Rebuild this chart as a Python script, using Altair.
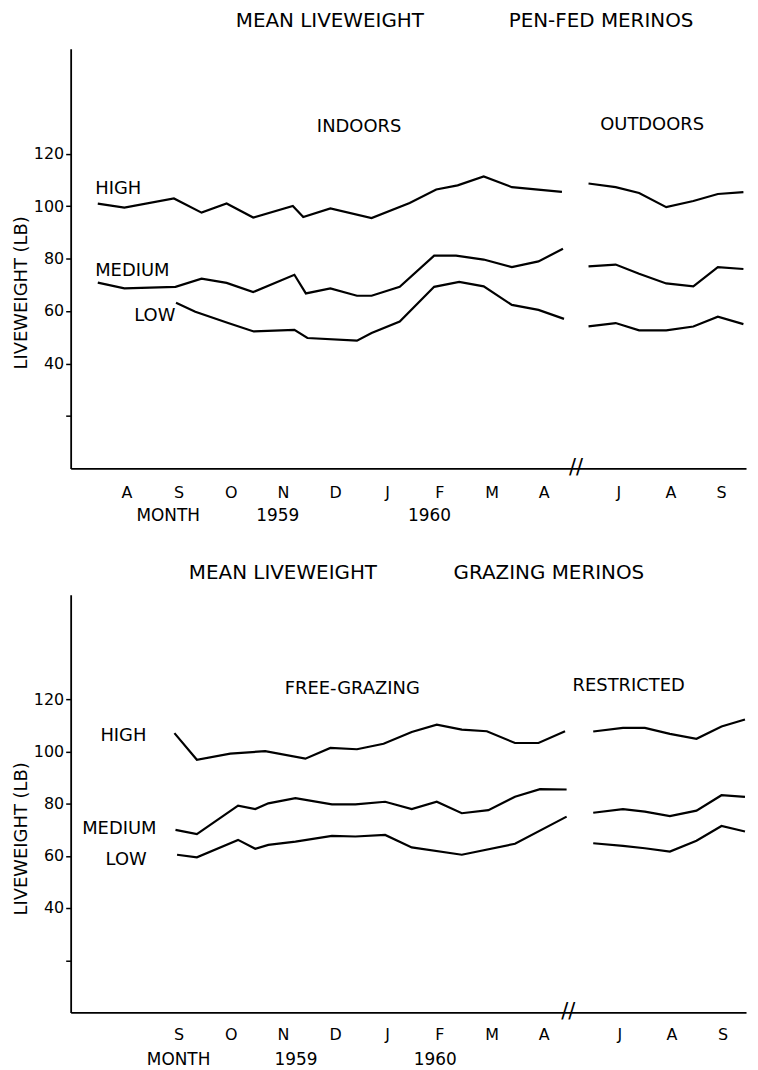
import altair as alt
import pandas as pd

FONT = "DejaVu Sans"

# ---------------- time axis (0 = start of Aug 1959, 1 unit = 1 month, break after April) ----
X_DOMAIN = [-0.57, 12.38]
TOP_MONTHS = ["A", "S", "O", "N", "D", "J", "F", "M", "A", "J", "A", "S"]
TOP_MONTH_POS = [0.5, 1.5, 2.5, 3.5, 4.5, 5.5, 6.5, 7.5, 8.5, 9.93, 10.93, 11.9]
BOT_MONTHS = ["S", "O", "N", "D", "J", "F", "M", "A", "J", "A", "S"]
BOT_MONTH_POS = [1.5, 2.5, 3.5, 4.5, 5.5, 6.5, 7.5, 8.5, 9.95, 10.95, 11.93]

# ---------------- PEN-FED MERINOS (top) ----------------
PEN_IN_HIGH_X = [-0.05, 0.46, 1.41, 1.94, 2.42, 2.93, 3.69, 3.89, 4.41, 5.20, 5.93, 6.44, 6.85, 7.35, 7.89, 8.85]
PEN_IN_HIGH_Y = [100.9, 99.4, 102.9, 97.5, 101.0, 95.6, 100.0, 95.8, 99.1, 95.4, 101.2, 106.3, 107.9, 111.3, 107.2, 105.4]
PEN_IN_MED_X = [-0.05, 0.46, 1.44, 1.94, 2.42, 2.93, 3.72, 3.94, 4.41, 4.92, 5.20, 5.74, 6.40, 6.82, 7.35, 7.89, 8.40, 8.87]
PEN_IN_MED_Y = [70.8, 68.6, 69.2, 72.3, 70.7, 67.2, 73.8, 66.7, 68.6, 65.8, 65.8, 69.2, 81.1, 81.1, 79.6, 76.7, 78.9, 83.7]
PEN_IN_LOW_X = [1.45, 1.82, 2.45, 2.94, 3.72, 3.97, 4.92, 5.20, 5.74, 6.40, 6.88, 7.35, 7.89, 8.40, 8.89]
PEN_IN_LOW_Y = [63.1, 59.7, 55.4, 52.2, 52.8, 49.7, 48.7, 51.6, 56.0, 69.2, 71.1, 69.4, 62.3, 60.4, 57.0]
PEN_OUT_X = [9.36, 9.88, 10.33, 10.85, 11.37, 11.84, 12.33]
PEN_OUT_HIGH_Y = [108.6, 107.2, 105.0, 99.6, 101.9, 104.6, 105.3]
PEN_OUT_MED_Y = [77.0, 77.7, 74.2, 70.5, 69.4, 76.7, 76.0]
PEN_OUT_LOW_Y = [54.1, 55.4, 52.6, 52.6, 54.1, 57.8, 55.0]

PEN_SERIES_LABELS = ["HIGH", "MEDIUM", "LOW"]
PEN_SERIES_LABEL_X = [-0.1, -0.1, 0.65]
PEN_SERIES_LABEL_Y = [106.6, 75.1, 57.9]
PEN_GROUP_LABELS = ["INDOORS", "OUTDOORS"]
PEN_GROUP_LABEL_X = [4.96, 10.58]
PEN_GROUP_LABEL_Y = [130.2, 130.9]
PEN_TITLE = ["MEAN LIVEWEIGHT", "PEN-FED MERINOS"]
PEN_TITLE_X = [4.4, 9.6]
PEN_TITLE_Y = [170.5, 170.5]
PEN_FOOT = ["MONTH", "1959", "1960"]
PEN_FOOT_X = [1.30, 3.40, 6.31]

# ---------------- GRAZING MERINOS (bottom) ----------------
GRZ_FREE_HIGH_X = [1.42, 1.85, 2.49, 3.16, 3.93, 4.41, 4.92, 5.43, 5.97, 6.45, 6.93, 7.41, 7.95, 8.40, 8.91]
GRZ_FREE_HIGH_Y = [107.0, 96.8, 99.1, 100.1, 97.2, 101.3, 100.8, 102.9, 107.4, 110.2, 108.3, 107.7, 103.2, 103.2, 107.7]
GRZ_FREE_MED_X = [1.44, 1.85, 2.64, 2.97, 3.22, 3.74, 4.44, 4.89, 5.46, 5.97, 6.45, 6.93, 7.44, 7.95, 8.43, 8.94]
GRZ_FREE_MED_Y = [69.9, 68.3, 79.2, 77.9, 80.1, 82.1, 79.7, 79.7, 80.7, 77.9, 80.7, 76.3, 77.5, 82.6, 85.5, 85.4]
GRZ_FREE_LOW_X = [1.47, 1.85, 2.64, 2.97, 3.22, 3.74, 4.44, 4.89, 5.46, 5.97, 6.93, 7.95, 8.94]
GRZ_FREE_LOW_Y = [60.4, 59.4, 66.1, 62.7, 64.2, 65.4, 67.6, 67.4, 68.0, 63.2, 60.4, 64.6, 75.0]
GRZ_REST_X = [9.45, 10.02, 10.44, 10.92, 11.43, 11.91, 12.36]
GRZ_REST_HIGH_Y = [107.6, 109.0, 109.0, 106.7, 104.8, 109.5, 112.2]
GRZ_REST_MED_Y = [76.5, 77.9, 76.9, 75.2, 77.3, 83.2, 82.6]
GRZ_REST_LOW_Y = [64.8, 63.8, 62.9, 61.6, 65.8, 71.4, 69.3]

GRZ_SERIES_LABELS = ["HIGH", "MEDIUM", "LOW"]
GRZ_SERIES_LABEL_X = [0.0, -0.35, 0.1]
GRZ_SERIES_LABEL_Y = [105.9, 70.3, 58.3]
GRZ_GROUP_LABELS = ["FREE-GRAZING", "RESTRICTED"]
GRZ_GROUP_LABEL_X = [4.83, 10.13]
GRZ_GROUP_LABEL_Y = [123.8, 125.1]
GRZ_TITLE = ["MEAN LIVEWEIGHT", "GRAZING MERINOS"]
GRZ_TITLE_X = [3.5, 8.6]
GRZ_TITLE_Y = [168.4, 168.4]
GRZ_FOOT = ["MONTH", "1959", "1960"]
GRZ_FOOT_X = [1.50, 3.75, 6.42]

Y_TICKS = [20, 40, 60, 80, 100, 120]
BREAK_MARK = "//"


def segments(parts):
    rows = []
    for name, xs, ys in parts:
        for i, (x, y) in enumerate(zip(xs, ys)):
            rows.append({"seg": name, "i": i, "x": x, "y": y})
    return pd.DataFrame(rows)


def month_expr(pos, names):
    return ("[" + ",".join("'%s'" % n for n in names) + "][indexof(["
            + ",".join(str(p) for p in pos) + "], datum.value)]")


def panel(lines, s_lab, s_x, s_y, g_lab, g_x, g_y, t_lab, t_x, t_y,
          foot, foot_x, month_pos, month_names, width, height,
          title_x, label_pad, foot_off, break_x):
    xs = alt.Scale(domain=X_DOMAIN, nice=False, zero=False)
    ys = alt.Scale(domain=[0, 160], nice=False, zero=False)
    x_axis = alt.Axis(values=month_pos, labelExpr=month_expr(month_pos, month_names),
                      title=None, ticks=False, tickSize=0, grid=False,
                      labelPadding=label_pad, labelFontSize=16, labelFont=FONT,
                      labelColor="black", domainColor="black", domainWidth=1.8,
                      labelOverlap=False, labelFlush=False, labelBound=False)
    y_axis = alt.Axis(values=Y_TICKS, labelExpr="datum.value == 20 ? '' : datum.label",
                      title="LIVEWEIGHT (LB)", titleX=title_x, titleY=245,
                      titleAngle=270, titleAlign="center", titleBaseline="middle",
                      titleFont=FONT, titleFontSize=18, titleFontWeight="normal",
                      titleColor="black", tickSize=5, tickColor="black", tickWidth=1.5,
                      labelPadding=2, labelFontSize=16, labelFont=FONT, labelColor="black",
                      grid=False, domainColor="black", domainWidth=1.8)

    base_lines = alt.Chart(lines).mark_line(color="black", strokeWidth=2.2).encode(
        x=alt.X("x:Q", scale=xs, axis=x_axis),
        y=alt.Y("y:Q", scale=ys, axis=y_axis),
        detail="seg:N",
        order="i:Q",
    )
    sdf = pd.DataFrame({"t": s_lab, "x": s_x, "y": s_y})
    s_text = alt.Chart(sdf).mark_text(align="left", baseline="middle", font=FONT,
                                      fontSize=18, color="black").encode(
        x=alt.X("x:Q", scale=xs), y=alt.Y("y:Q", scale=ys), text="t:N")
    gdf = pd.DataFrame({"t": g_lab, "x": g_x, "y": g_y})
    g_text = alt.Chart(gdf).mark_text(align="center", baseline="middle", font=FONT,
                                      fontSize=18, color="black").encode(
        x=alt.X("x:Q", scale=xs), y=alt.Y("y:Q", scale=ys), text="t:N")
    tdf = pd.DataFrame({"t": t_lab, "x": t_x, "y": t_y})
    t_text = alt.Chart(tdf).mark_text(align="center", baseline="middle", font=FONT,
                                      fontSize=20, color="black").encode(
        x=alt.X("x:Q", scale=xs), y=alt.Y("y:Q", scale=ys), text="t:N")
    fdf = pd.DataFrame({"t": foot, "x": foot_x})
    f_text = alt.Chart(fdf).mark_text(align="center", baseline="middle", font=FONT,
                                      fontSize=17, color="black").encode(
        x=alt.X("x:Q", scale=xs), y=alt.value(height + foot_off), text="t:N")
    bdf = pd.DataFrame({"t": [BREAK_MARK], "x": [break_x], "y": [0]})
    b_text = alt.Chart(bdf).mark_text(align="center", baseline="middle", font=FONT,
                                      fontSize=21, color="black").encode(
        x=alt.X("x:Q", scale=xs), y=alt.Y("y:Q", scale=ys), text="t:N")
    return alt.layer(base_lines, s_text, g_text, t_text, f_text, b_text).properties(
        width=width, height=height)


top_lines = segments([
    ("in_high", PEN_IN_HIGH_X, PEN_IN_HIGH_Y),
    ("in_med", PEN_IN_MED_X, PEN_IN_MED_Y),
    ("in_low", PEN_IN_LOW_X, PEN_IN_LOW_Y),
    ("out_high", PEN_OUT_X, PEN_OUT_HIGH_Y),
    ("out_med", PEN_OUT_X, PEN_OUT_MED_Y),
    ("out_low", PEN_OUT_X, PEN_OUT_LOW_Y),
])
bot_lines = segments([
    ("free_high", GRZ_FREE_HIGH_X, GRZ_FREE_HIGH_Y),
    ("free_med", GRZ_FREE_MED_X, GRZ_FREE_MED_Y),
    ("free_low", GRZ_FREE_LOW_X, GRZ_FREE_LOW_Y),
    ("rest_high", GRZ_REST_X, GRZ_REST_HIGH_Y),
    ("rest_med", GRZ_REST_X, GRZ_REST_MED_Y),
    ("rest_low", GRZ_REST_X, GRZ_REST_LOW_Y),
])

top = panel(top_lines, PEN_SERIES_LABELS, PEN_SERIES_LABEL_X, PEN_SERIES_LABEL_Y,
            PEN_GROUP_LABELS, PEN_GROUP_LABEL_X, PEN_GROUP_LABEL_Y,
            PEN_TITLE, PEN_TITLE_X, PEN_TITLE_Y, PEN_FOOT, PEN_FOOT_X,
            TOP_MONTH_POS, TOP_MONTHS, 679, 422, -49, 16, 48, 9.12)
bot = panel(bot_lines, GRZ_SERIES_LABELS, GRZ_SERIES_LABEL_X, GRZ_SERIES_LABEL_Y,
            GRZ_GROUP_LABELS, GRZ_GROUP_LABEL_X, GRZ_GROUP_LABEL_Y,
            GRZ_TITLE, GRZ_TITLE_X, GRZ_TITLE_Y, GRZ_FOOT, GRZ_FOOT_X,
            BOT_MONTH_POS, BOT_MONTHS, 679, 420, -49, 14, 48, 8.97)

chart = alt.vconcat(top, bot, spacing=38).properties(
    padding={"left": 5, "top": 0, "right": 0, "bottom": 0},
    background="white",
).configure_view(stroke=None).configure_axis(labelFont=FONT, titleFont=FONT)

chart.save("out.html", embed_options={"renderer": "svg", "actions": False})
